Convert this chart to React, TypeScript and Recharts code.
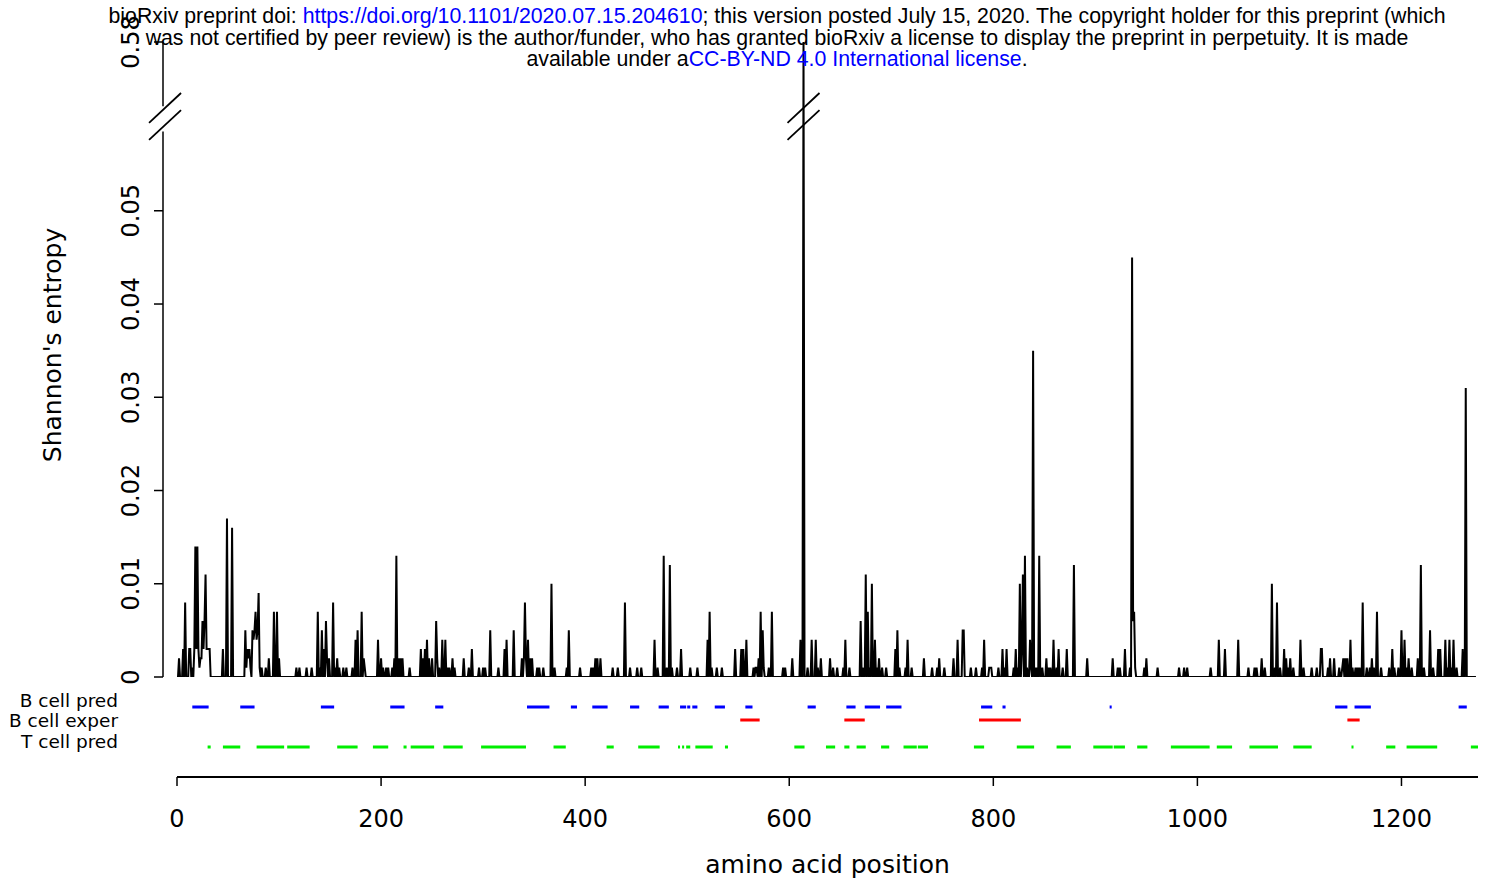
import React from 'react';
import { LineChart, Line, XAxis, YAxis, ReferenceLine } from 'recharts';

// Shannon's entropy by amino-acid position: [position, entropy]; every other position is 0
const entropyPeaks: [number, number][] = [
  [2, 0.002], [6, 0.003], [8, 0.008], [12, 0.003], [13, 0.003], [15, 0.001], [17, 0.003], [18, 0.014],
  [19, 0.003], [20, 0.014], [21, 0.003], [22, 0.001], [23, 0.002], [24, 0.002], [25, 0.006], [26, 0.003],
  [27, 0.006], [28, 0.011], [29, 0.003], [30, 0.003], [31, 0.003], [32, 0.003], [45, 0.003], [49, 0.017],
  [54, 0.016], [67, 0.005], [68, 0.001], [69, 0.003], [70, 0.002], [71, 0.003], [72, 0.001], [74, 0.005],
  [75, 0.004], [76, 0.005], [77, 0.007], [78, 0.004], [79, 0.005], [80, 0.009], [81, 0.001], [83, 0.001],
  [87, 0.001], [90, 0.002], [95, 0.007], [98, 0.007], [100, 0.002], [117, 0.001], [120, 0.001], [127, 0.001],
  [132, 0.001], [138, 0.007], [140, 0.001], [142, 0.005], [144, 0.003], [146, 0.006], [147, 0.002], [149, 0.002],
  [153, 0.008], [155, 0.001], [157, 0.002], [159, 0.001], [163, 0.001], [166, 0.001], [172, 0.001], [175, 0.004],
  [177, 0.005], [181, 0.007], [183, 0.002], [184, 0.001], [197, 0.004], [200, 0.002], [202, 0.001], [205, 0.001],
  [207, 0.001], [211, 0.001], [213, 0.002], [215, 0.013], [217, 0.002], [219, 0.002], [221, 0.002], [228, 0.001],
  [239, 0.003], [241, 0.002], [243, 0.003], [245, 0.004], [247, 0.002], [250, 0.002], [254, 0.006], [255, 0.002],
  [257, 0.001], [260, 0.004], [263, 0.004], [265, 0.001], [267, 0.001], [270, 0.002], [272, 0.001], [281, 0.002],
  [286, 0.001], [289, 0.003], [296, 0.001], [300, 0.001], [302, 0.001], [307, 0.005], [315, 0.001], [321, 0.003],
  [323, 0.004], [330, 0.005], [338, 0.002], [340, 0.002], [341, 0.008], [342, 0.002], [344, 0.004], [346, 0.002],
  [348, 0.002], [353, 0.001], [355, 0.001], [359, 0.001], [367, 0.01], [370, 0.001], [382, 0.001], [384, 0.005],
  [395, 0.001], [406, 0.001], [408, 0.001], [410, 0.002], [412, 0.002], [415, 0.002], [427, 0.001], [432, 0.001],
  [439, 0.008], [444, 0.001], [451, 0.001], [455, 0.001], [468, 0.004], [471, 0.001], [477, 0.013], [480, 0.001],
  [483, 0.012], [485, 0.001], [490, 0.001], [494, 0.003], [503, 0.001], [510, 0.001], [520, 0.004], [522, 0.007],
  [524, 0.001], [529, 0.001], [534, 0.001], [547, 0.003], [553, 0.003], [555, 0.003], [558, 0.004], [565, 0.001],
  [567, 0.001], [568, 0.001], [570, 0.002], [572, 0.007], [574, 0.005], [575, 0.001], [580, 0.001], [583, 0.007],
  [594, 0.001], [596, 0.001], [603, 0.002], [611, 0.004], [614, 0.58], [618, 0.001], [622, 0.004], [626, 0.004],
  [628, 0.001], [631, 0.002], [640, 0.002], [643, 0.001], [647, 0.001], [653, 0.001], [655, 0.004], [659, 0.001],
  [670, 0.006], [672, 0.001], [675, 0.011], [677, 0.007], [679, 0.001], [681, 0.01], [684, 0.004], [686, 0.001],
  [688, 0.002], [691, 0.001], [695, 0.001], [704, 0.003], [706, 0.005], [708, 0.001], [714, 0.001], [716, 0.004],
  [720, 0.001], [732, 0.002], [740, 0.001], [745, 0.001], [747, 0.002], [752, 0.001], [761, 0.002], [765, 0.004],
  [770, 0.005], [771, 0.005], [778, 0.001], [783, 0.001], [789, 0.001], [791, 0.004], [796, 0.001], [797, 0.001],
  [798, 0.001], [805, 0.001], [809, 0.003], [811, 0.001], [813, 0.003], [820, 0.001], [822, 0.003], [824, 0.001],
  [826, 0.01], [828, 0.003], [829, 0.011], [831, 0.013], [833, 0.001], [836, 0.004], [837, 0.001], [839, 0.035],
  [841, 0.001], [843, 0.001], [845, 0.013], [848, 0.001], [852, 0.002], [854, 0.001], [856, 0.001], [859, 0.004],
  [862, 0.001], [864, 0.003], [868, 0.001], [872, 0.003], [879, 0.012], [892, 0.002], [917, 0.002], [922, 0.001],
  [924, 0.001], [929, 0.003], [934, 0.001], [936, 0.045], [937, 0.006], [938, 0.007], [939, 0.001], [948, 0.001],
  [950, 0.002], [961, 0.001], [982, 0.001], [987, 0.001], [990, 0.001], [1013, 0.001], [1021, 0.004], [1027, 0.003],
  [1040, 0.004], [1050, 0.001], [1056, 0.001], [1058, 0.001], [1063, 0.002], [1066, 0.001], [1073, 0.01], [1076, 0.001],
  [1078, 0.008], [1081, 0.001], [1085, 0.003], [1087, 0.002], [1089, 0.001], [1091, 0.002], [1094, 0.001], [1101, 0.004],
  [1104, 0.001], [1112, 0.001], [1117, 0.001], [1121, 0.003], [1122, 0.003], [1128, 0.001], [1130, 0.002], [1134, 0.002],
  [1139, 0.001], [1142, 0.001], [1143, 0.002], [1145, 0.002], [1147, 0.002], [1150, 0.004], [1152, 0.001], [1155, 0.001],
  [1157, 0.001], [1159, 0.001], [1162, 0.008], [1166, 0.001], [1169, 0.001], [1171, 0.002], [1173, 0.001], [1176, 0.007],
  [1180, 0.001], [1188, 0.001], [1191, 0.003], [1193, 0.001], [1197, 0.001], [1200, 0.005], [1203, 0.004], [1205, 0.001],
  [1207, 0.002], [1210, 0.001], [1216, 0.002], [1219, 0.012], [1222, 0.001], [1228, 0.005], [1231, 0.001], [1236, 0.003],
  [1238, 0.003], [1243, 0.004], [1245, 0.001], [1247, 0.004], [1249, 0.001], [1251, 0.004], [1254, 0.001], [1260, 0.003],
  [1263, 0.031],
];
const SEQ_LENGTH = 1273;

const yTicks = [0, 0.01, 0.02, 0.03, 0.04, 0.05, 0.58];
const yTickLabels = ['0', '0.01', '0.02', '0.03', '0.04', '0.05', '0.58'];
const xTicks = [0, 200, 400, 600, 800, 1000, 1200];

// epitope tracks: [start, end] positions
const trackNames = ['B cell pred', 'B cell exper', 'T cell pred'];
const bCellPred: [number, number][] = [
  [15, 31], [62, 76], [141, 154], [209, 223], [253, 261], [343, 365], [386, 392], [407, 422], [444, 453],
  [472, 482], [493, 499], [500, 503], [505, 510], [527, 537], [557, 564], [618, 626], [656, 665], [674, 689],
  [695, 710], [788, 799], [809, 812], [914, 916], [1135, 1147], [1154, 1170], [1256, 1264],
];
const bCellExper: [number, number][] = [[552, 571], [654, 674], [786, 827], [1147, 1159]];
const tCellPred: [number, number][] = [
  [30, 33], [45, 62], [78, 105], [108, 130], [157, 177], [192, 207], [222, 225], [229, 252], [261, 280],
  [298, 342], [369, 381], [421, 428], [452, 473], [491, 493], [495, 497], [499, 503], [508, 525], [537, 540],
  [605, 615], [636, 645], [654, 659], [666, 675], [690, 698], [712, 725], [726, 736], [781, 791], [823, 840],
  [862, 876], [898, 917], [918, 929], [941, 951], [974, 1012], [1019, 1034], [1051, 1079], [1094, 1112],
  [1151, 1153], [1185, 1194], [1205, 1235], [1268, 1275],
];

// broken y axis: lower part is linear, the top part holds the 0.5-0.58 range
const X_MIN = -13.7;
const X_MAX = 1275;
const LOWER_TOP = 0.0585;
const UPPER_BOTTOM = 0.0612;
const Y_TOP = 0.0681;
const UPPER_FROM = 0.5;
const UPPER_TO = 0.58;

const toDisplay = (v: number) =>
  v <= LOWER_TOP ? v : UPPER_BOTTOM + ((v - UPPER_FROM) / (UPPER_TO - UPPER_FROM)) * (Y_TOP - UPPER_BOTTOM);

const peakMap = new Map(entropyPeaks);
const entropyData = Array.from({ length: SEQ_LENGTH }, (_, i) => {
  const pos = i + 1;
  const v = peakMap.get(pos) ?? 0;
  return { pos, v, disp: toDisplay(v) };
});

const toSegments = (segs: [number, number][], level: number) =>
  segs.flatMap(([s, e]) => [
    { x: s, y: level },
    { x: e, y: level },
    { x: e, y: null },
  ]);

const FONT = 'DejaVu Sans, sans-serif';
const AXIS_X = 163;

const YTick = (props: any) => {
  const { y, index } = props;
  return (
    <g>
      <line x1={AXIS_X - 9} x2={AXIS_X} y1={y} y2={y} stroke="#000" strokeWidth={1.5} />
      <text
        x={131}
        y={y}
        transform={`rotate(-90 131 ${y})`}
        textAnchor="middle"
        dominantBaseline="central"
        fontSize={24}
        fontFamily={FONT}
        fill="#000"
      >
        {yTickLabels[index]}
      </text>
    </g>
  );
};

const TrackTick = (props: any) => {
  const { y, index } = props;
  return (
    <text x={118} y={y} textAnchor="end" dominantBaseline="central" fontSize={18.5} fontFamily={FONT} fill="#000">
      {trackNames[index]}
    </text>
  );
};

const slash = (cx: number, cy: number) => [
  { x: cx - 16 / 1.0204, y: cy - 0.0016 },
  { x: cx + 16 / 1.0204, y: cy + 0.0016 },
];

const breakCentres = [0.06103, 0.0592];
const breakXs = [X_MIN + 2, 614];

export default function App() {
  return (
    <div style={{ position: 'absolute', left: 0, top: 0, width: 1491, height: 885, background: '#fff', overflow: 'hidden' }}>
      <div style={{ position: 'absolute', left: 0, top: 0 }}>
        <LineChart width={1491} height={700} data={entropyData} margin={{ top: 42, right: 13, left: 0, bottom: 23 }}>
          <XAxis type="number" dataKey="pos" domain={[X_MIN, X_MAX]} hide allowDataOverflow />
          <YAxis
            type="number"
            width={163}
            domain={[0, Y_TOP]}
            ticks={yTicks.map(toDisplay)}
            interval={0}
            axisLine={false}
            tickLine={false}
            tick={<YTick />}
            allowDataOverflow
            label={{
              content: () => (
                <text
                  x={52}
                  y={345}
                  transform="rotate(-90 52 345)"
                  textAnchor="middle"
                  dominantBaseline="central"
                  fontSize={25}
                  fontFamily={FONT}
                  fill="#000"
                >
                  Shannon's entropy
                </text>
              ),
            }}
          />
          <Line
            type="linear"
            dataKey="disp"
            stroke="#000"
            strokeWidth={2}
            dot={false}
            isAnimationActive={false}
          />
          <ReferenceLine
            segment={[{ x: X_MIN, y: 0 }, { x: X_MIN, y: LOWER_TOP }]}
            stroke="#000"
            strokeWidth={1.5}
            ifOverflow="visible"
          />
          <ReferenceLine
            segment={[{ x: X_MIN, y: UPPER_BOTTOM }, { x: X_MIN, y: Y_TOP }]}
            stroke="#000"
            strokeWidth={1.5}
            ifOverflow="visible"
          />
          {breakXs.flatMap((bx) =>
            breakCentres.map((cy) => (
              <ReferenceLine
                key={`${bx}-${cy}`}
                segment={slash(bx, cy)}
                stroke="#000"
                strokeWidth={1.8}
                ifOverflow="visible"
              />
            ))
          )}
        </LineChart>
      </div>
      <div style={{ position: 'absolute', left: 0, top: 680 }}>
        <LineChart width={1491} height={205} margin={{ top: 0, right: 13, left: 0, bottom: 0 }}>
          <XAxis
            type="number"
            dataKey="x"
            domain={[0, X_MAX]}
            ticks={xTicks}
            interval={0}
            allowDataOverflow
            height={108}
            tickSize={9}
            tickMargin={24}
            stroke="#000"
            axisLine={{ stroke: '#000', strokeWidth: 2 }}
            tickLine={{ stroke: '#000', strokeWidth: 1.5 }}
            tick={{ fill: '#000', fontSize: 24, fontFamily: FONT }}
            label={{
              value: 'amino acid position',
              position: 'insideBottom',
              offset: 12,
              fill: '#000',
              fontSize: 25,
              fontFamily: FONT,
            }}
          />
          <YAxis
            type="number"
            width={177}
            domain={[0, 97]}
            ticks={[77, 57, 36]}
            interval={0}
            axisLine={false}
            tickLine={false}
            tick={<TrackTick />}
            allowDataOverflow
          />
          <Line data={toSegments(bCellPred, 70)} dataKey="y" stroke="#0000ff" strokeWidth={3} dot={false} isAnimationActive={false} />
          <Line data={toSegments(bCellExper, 57)} dataKey="y" stroke="#ff0000" strokeWidth={3} dot={false} isAnimationActive={false} />
          <Line data={toSegments(tCellPred, 30)} dataKey="y" stroke="#00ee00" strokeWidth={3} dot={false} isAnimationActive={false} />
        </LineChart>
      </div>
      <div
        style={{
          position: 'absolute',
          left: 77,
          top: 6,
          width: 1400,
          textAlign: 'center',
          fontFamily: 'Liberation Sans, Arial, sans-serif',
          fontSize: 21.3,
          lineHeight: '21.5px',
          color: '#000',
          whiteSpace: 'nowrap',
        }}
      >
        <div>
          bioRxiv preprint doi: <span style={{ color: '#0000ff' }}>https://doi.org/10.1101/2020.07.15.204610</span>; this
          version posted July 15, 2020. The copyright holder for this preprint (which
        </div>
        <div>
          was not certified by peer review) is the author/funder, who has granted bioRxiv a license to display the preprint
          in perpetuity. It is made
        </div>
        <div>
          available under a<span style={{ color: '#0000ff' }}>CC-BY-ND 4.0 International license</span>.
        </div>
      </div>
    </div>
  );
}
